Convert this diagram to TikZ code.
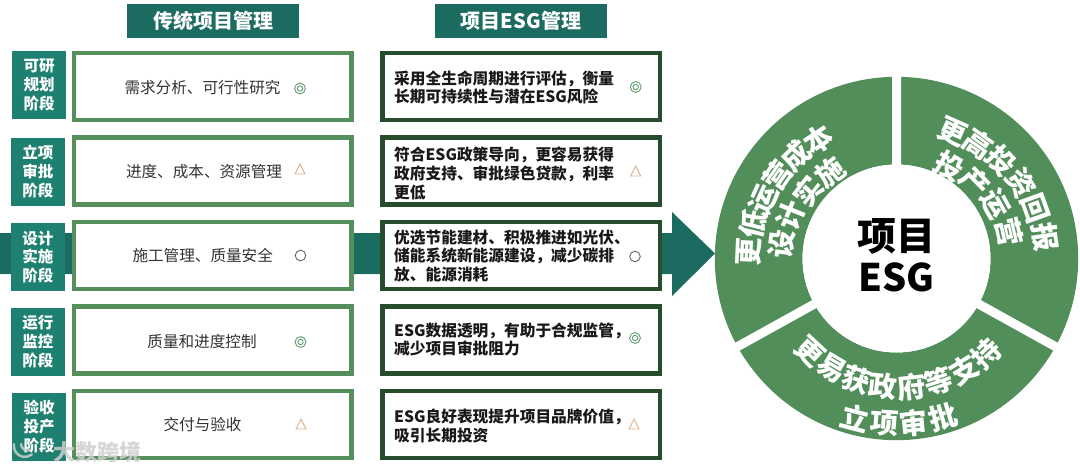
\documentclass[tikz,border=0pt]{standalone}
\usepackage{fontspec}
\setmainfont{Noto Sans CJK SC}
\definecolor{headc}{HTML}{1C6B60}
\definecolor{labc}{HTML}{1E8070}
\definecolor{lgreen}{HTML}{548F5C}
\definecolor{dgreen}{HTML}{264D2C}
\definecolor{ringc}{HTML}{528E5A}
\definecolor{txt}{HTML}{333333}
\definecolor{tanc}{HTML}{D9B48A}
\definecolor{dotg}{HTML}{5F9C72}
\definecolor{circg}{HTML}{666666}
% \arcline{name}{font size}{r start}{r end}{angle start}{angle end}{last index}{chars}{rotation offset}
\newcommand{\arcline}[9]{%
  \foreach \ch [count=\ci from 0] in {#8}{%
    \pgfmathsetmacro{\ang}{#5+(#6-#5)*\ci/#7}%
    \pgfmathsetmacro{\rad}{#3+(#4-#3)*\ci/#7}%
    \pgfmathsetmacro{\px}{896.5+\rad*cos(\ang)}%
    \pgfmathsetmacro{\py}{258.5-\rad*sin(\ang)}%
    \pgfmathsetmacro{\rt}{\ang+#9}%
    \node[arcchar,rotate=\rt] (#1\ci) at (\px,\py) {\fontsize{#2}{#2}\selectfont\ch};%
  }%
}
\tikzset{
  x=1pt,y=-1pt,
  headbox/.style={fill=headc,text=white,minimum width=172pt,minimum height=34pt,inner sep=0pt,font=\fontsize{20}{24}\selectfont\bfseries},
  labbox/.style={fill=labc,text=white,minimum width=54pt,minimum height=68pt,inner sep=0pt,align=center,font=\fontsize{15.5}{18.7}\selectfont\bfseries},
  tradbox/.style={draw=lgreen,line width=4.5pt,fill=white,minimum width=277.5pt,minimum height=67pt,inner sep=0pt},
  esgbox/.style={draw=dgreen,line width=4.5pt,fill=white,minimum width=277.5pt,minimum height=67pt,inner sep=0pt},
  tradtxt/.style={text=txt,inner sep=0pt,font=\fontsize{15.6}{19}\selectfont},
  esgtxt/.style={text=black!90,inner sep=0pt,anchor=west,align=left,font=\fontsize{15.7}{18.8}\selectfont\bfseries},
  arcchar/.style={text=white,inner sep=0pt,font=\bfseries},
  dblmark/.style={draw=dotg,line width=.9pt},
  trimark/.style={draw=tanc,line width=.9pt,line join=miter},
  ringmark/.style={draw=circg,line width=.9pt},
}
\newcommand{\dbl}[2]{\draw[dblmark] (#1,#2) circle (5.4pt) (#1,#2) circle (2.7pt);}
\newcommand{\tri}[2]{\draw[trimark] (#1-5,#2+5) -- (#1+5,#2+5) -- (#1,#2-5) -- cycle;}
\begin{document}
\begin{tikzpicture}
\useasboundingbox (0,0) rectangle (1080,471);
% big arrow
\fill[headc] (0,233) -- (672,233) -- (672,212) -- (715,253.5) -- (672,296) -- (672,274) -- (0,274) -- cycle;
% headers
\node[headbox] (h1) at (213,21) {传统项目管理};
\node[headbox] (h2) at (521,21) {项目ESG管理};
% left labels
\node[labbox] (l1) at (39,85) {可研\\规划\\阶段};
\node[labbox] (l2) at (38,171.5) {立项\\审批\\阶段};
\node[labbox] (l3) at (38,257) {设计\\实施\\阶段};
\node[labbox] (l4) at (38,341.5) {运行\\监控\\阶段};
\node[labbox] (l5) at (39,426.5) {验收\\投产\\阶段};
% traditional boxes
\node[tradbox] (t1) at (212.7,86.5) {};
\node[tradbox] (t2) at (212.7,171) {};
\node[tradbox] (t3) at (212.7,255.5) {};
\node[tradbox] (t4) at (212.7,340) {};
\node[tradbox] (t5) at (212.7,424.5) {};
\node[tradtxt] (tt1) at (202.5,88) {需求分析、可行性研究};
\node[tradtxt] (tt2) at (204,172) {进度、成本、资源管理};
\node[tradtxt] (tt3) at (202.7,255) {施工管理、质量安全};
\node[tradtxt] (tt4) at (202,342) {质量和进度控制};
\node[tradtxt] (tt5) at (202.5,425) {交付与验收};
% ESG boxes
\node[esgbox] (e1) at (521,86.5) {};
\node[esgbox] (e2) at (521,171) {};
\node[esgbox] (e3) at (521,255.5) {};
\node[esgbox] (e4) at (521,340) {};
\node[esgbox] (e5) at (521,424.5) {};
\node[esgtxt] (et1) at (394,87.5) {采用全生命周期进行评估，衡量\\长期可持续性与潜在ESG风险};
\node[esgtxt] (et2) at (394,173.5) {符合ESG政策导向，更容易获得\\政府支持、审批绿色贷款，利率\\更低};
\node[esgtxt] (et3) at (394,256) {优选节能建材、积极推进如光伏、\\储能系统新能源建设，减少碳排\\放、能源消耗};
\node[esgtxt] (et4) at (394,339.5) {ESG数据透明，有助于合规监管，\\减少项目审批阻力};
\node[esgtxt] (et5) at (394,426) {ESG良好表现提升项目品牌价值，\\吸引长期投资};
% marks
\dbl{300}{88.5}
\tri{300}{169}
\draw[ringmark] (300.5,255.5) circle (5.3pt);
\dbl{300.5}{342}
\tri{301}{424}
\dbl{635.7}{87}
\tri{635.7}{171}
\draw[ringmark] (635,256.5) circle (5.3pt);
\dbl{635}{338}
\tri{634}{424}
% ring
\fill[ringc,even odd rule] (896.5,258.5) circle (181.7pt) (896.5,258.5) circle (94pt);
\coordinate (cc) at (896.5,258.5);
\coordinate (g1) at (896.5,70);
\coordinate (g2) at ({896.5+190*cos(29)},{258.5+190*sin(29)});
\coordinate (g3) at ({896.5-190*cos(29)},{258.5+190*sin(29)});
\draw[white,line width=9pt] (cc) -- (g1) (cc) -- (g2) (cc) -- (g3);
\fill[white] (cc) circle (94pt);
\node[inner sep=0pt,font=\fontsize{39}{42}\selectfont\bfseries] (c1) at (896.5,236) {项目};
\node[inner sep=0pt,font=\fontsize{38}{42}\selectfont\bfseries] (c2) at (896.5,277) {ESG};
\arcline{a}{28.5}{148}{142}{177.4}{123.5}{5}{更,低,运,营,成,本}{-90}
\arcline{b}{28.5}{116}{109}{173}{127.6}{3}{设,计,实,施}{-90}
\arcline{c}{28.5}{139}{150}{66}{8.3}{5}{更,高,投,资,回,报}{-90}
\arcline{d}{28.5}{106}{116}{60}{13}{3}{投,产,运,营}{-90}
\arcline{e}{28.5}{127}{131}{227}{313.5}{7}{更,易,获,政,府,等,支,持}{90}
\arcline{f}{28.5}{165}{165}{255.5}{286.3}{3}{立,项,审,批}{90}
% watermark
\draw[white!62!gray,opacity=.85,line width=2.4pt,line cap=round] (14,444) arc[start angle=170,end angle=310,radius=11pt];
\draw[white!62!gray,opacity=.85,line width=2.4pt,line cap=round] (21,444) arc[start angle=180,end angle=290,radius=6.5pt];
\node[text=white!62!gray,opacity=.85,inner sep=0pt,font=\fontsize{22}{24}\selectfont\bfseries] (wm) at (97,452) {大数跨境};
\end{tikzpicture}
\end{document}
